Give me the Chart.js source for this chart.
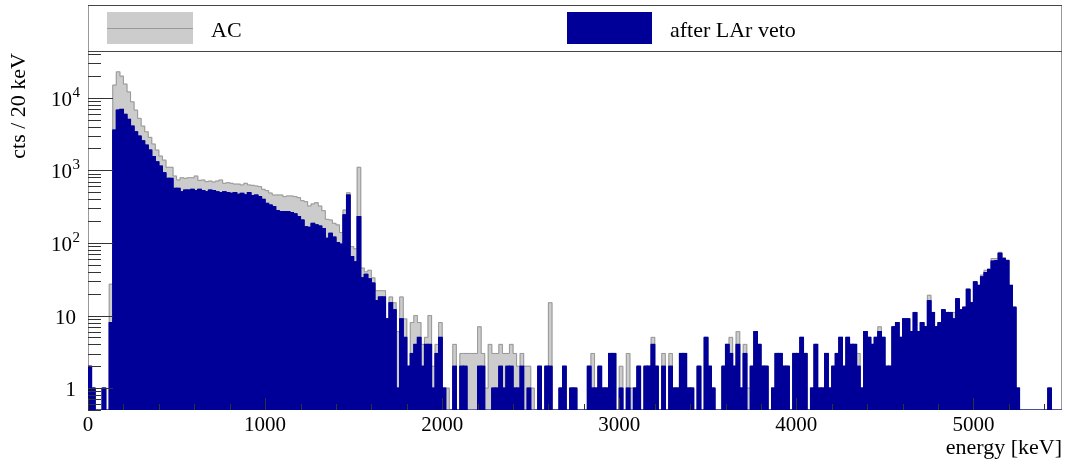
<!DOCTYPE html>
<html>
<head>
<meta charset="utf-8">
<title>Energy spectrum before and after LAr veto</title>
<script src="https://cdn.jsdelivr.net/npm/chart.js@4.4.1/dist/chart.umd.min.js"></script>
<style>
  html, body { margin: 0; padding: 0; background: #fff; }
  #wrap { position: relative; width: 1066px; height: 464px; }
</style>
</head>
<body>
<div id="wrap"><canvas id="spectrum" width="1066" height="464"></canvas></div>
<script>
// histogram binning (keV)
const binWidth = 20;
const energyMin = 0;
const energyMax = 5500;

const seriesNames = ['AC', 'after LAr veto'];

// counts per 20 keV bin, 275 bins (20 bins per row)
const acCounts = [
  2, 1, 0, 0, 1, 0, 27, 14900, 22700, 19800, 15400, 12000, 8770, 6740, 5180, 4060, 3390, 2840, 2300, 1900,
  1570, 1380, 1100, 1100, 834, 735, 790, 775, 790, 790, 834, 725, 735, 697, 710, 690, 710, 735, 662, 675,
  662, 645, 645, 628, 662, 628, 620, 608, 596, 547, 525, 486, 457, 457, 457, 434, 443, 443, 434, 420,
  382, 370, 322, 344, 358, 322, 278, 211, 207, 186, 177, 139, 284, 491, 89, 83, 1100, 45, 40, 42,
  33, 22, 22, 22, 9, 18, 15, 6, 18, 9, 2, 8, 10, 8, 4, 5, 10, 2, 4, 8,
  1, 1, 0, 4, 0, 3, 3, 3, 3, 3, 7, 3, 1, 4, 3, 3, 4, 3, 3, 4,
  3, 2, 3, 2, 2, 1, 0, 2, 0, 2, 15, 0, 0, 1, 2, 0, 1, 1, 0, 0,
  0, 2, 3, 1, 2, 1, 1, 3, 3, 0, 2, 0, 3, 1, 1, 2, 0, 2, 2, 5,
  2, 0, 3, 0, 3, 1, 1, 3, 3, 1, 1, 0, 2, 0, 5, 2, 1, 0, 0, 2,
  4, 5, 2, 6, 1, 4, 1, 2, 6, 4, 2, 2, 0, 1, 3, 3, 2, 2, 0, 3,
  3, 5, 3, 0, 1, 4, 1, 1, 3, 1, 2, 3, 5, 2, 5, 4, 4, 3, 1, 6,
  5, 4, 5, 7, 5, 2, 2, 7, 8, 5, 9, 9, 6, 11, 6, 8, 7, 19, 11, 7,
  8, 12, 11, 11, 11, 17, 12, 13, 23, 15, 29, 26, 36, 42, 44, 61, 61, 74, 63, 58,
  26, 13, 1, 0, 0, 0, 0, 0, 0, 0, 0, 1, 0, 0, 0
];

const vetoCounts = [
  2, 1, 0, 0, 1, 0, 8, 3580, 6740, 6890, 5890, 5020, 4060, 3390, 2960, 2550, 2220, 1900, 1540, 1310,
  1140, 926, 774, 774, 564, 564, 507, 535, 535, 547, 525, 547, 525, 507, 535, 525, 507, 492, 507, 492,
  482, 492, 467, 482, 458, 492, 450, 457, 434, 398, 350, 333, 316, 278, 270, 270, 270, 261, 251, 230,
  207, 167, 164, 186, 177, 171, 158, 116, 136, 120, 101, 96, 243, 457, 65, 55, 230, 33, 37, 32,
  28, 16, 18, 18, 9, 15, 12, 1, 9, 5, 2, 3, 4, 5, 2, 4, 4, 1, 3, 5,
  1, 0, 0, 2, 0, 2, 2, 0, 0, 0, 2, 2, 0, 0, 1, 1, 2, 1, 2, 2,
  1, 1, 2, 0, 1, 0, 0, 2, 0, 2, 2, 0, 0, 1, 2, 0, 1, 1, 0, 0,
  0, 2, 1, 1, 2, 1, 1, 3, 3, 0, 1, 0, 1, 0, 1, 2, 0, 2, 2, 4,
  2, 0, 2, 0, 2, 1, 1, 3, 3, 1, 1, 0, 2, 0, 5, 2, 1, 0, 0, 2,
  4, 3, 2, 4, 1, 3, 0, 2, 6, 4, 2, 2, 0, 1, 3, 3, 2, 2, 0, 3,
  3, 5, 3, 0, 1, 4, 1, 1, 3, 1, 2, 3, 5, 2, 5, 4, 4, 2, 1, 6,
  5, 4, 5, 6, 5, 2, 2, 7, 8, 5, 9, 9, 6, 11, 6, 8, 7, 16, 11, 7,
  8, 12, 11, 11, 9, 17, 12, 13, 23, 15, 29, 26, 34, 39, 43, 56, 57, 72, 61, 57,
  26, 13, 1, 0, 0, 0, 0, 0, 0, 0, 0, 1, 0, 0, 0
];

const xTickValues = [0, 1000, 2000, 3000, 4000, 5000];
const xTickLabels = ['0', '1000', '2000', '3000', '4000', '5000'];
const xMinorStep = 200;
const yTickValues = [1, 10, 100, 1000, 10000];
const yTickLabels = [['1', ''], ['10', ''], ['10', '2'], ['10', '3'], ['10', '4']];
const xTitle = 'energy [keV]';
const yTitle = 'cts / 20 keV';
const yMin = 0.5;
const yMax = 44000;

// ROOT-ish colours
const acFill = '#cccccc';
const acLine = '#999999';
const vetoFill = '#000099';
const serif = '"Liberation Serif", "Times New Roman", serif';

function barPoints(counts) {
    const pts = [];
    counts.forEach((c, i) => {
        if (c > 0) pts.push({ x: energyMin + (i + 0.5) * binWidth, y: c });
    });
    return pts;
}

// step outline, empty bins drop to the bottom of the frame
function outlinePoints(counts) {
    const pts = counts.map((c, i) => ({ x: energyMin + i * binWidth, y: c > 0 ? c : yMin }));
    pts.push({ x: energyMin + counts.length * binWidth, y: pts[pts.length - 1].y });
    return pts;
}

const rootFrame = {
    id: 'rootFrame',
    beforeDatasetsDraw(chart) {
        const { ctx, chartArea: a } = chart;
        ctx.save();
        ctx.strokeStyle = '#999';
        ctx.lineWidth = 1;
        ctx.strokeRect(a.left + 0.5, a.top + 0.5, a.right - a.left - 1, a.bottom - a.top - 1);
        ctx.restore();
    },
    afterDatasetsDraw(chart) {
        const { ctx, chartArea: a, scales: { x, y } } = chart;
        ctx.save();
        ctx.strokeStyle = '#333';
        ctx.lineWidth = 1;
        ctx.beginPath();
        for (let e = -1; e <= 4; e++) {
            for (let m = 1; m <= 9; m++) {
                const v = m * Math.pow(10, e);
                if (v < yMin || v > yMax) continue;
                const py = Math.round(y.getPixelForValue(v)) + 0.5;
                ctx.moveTo(a.left, py);
                ctx.lineTo(a.left + (m === 1 ? 25 : 13), py);
            }
        }
        for (let v = energyMin; v <= energyMax; v += xMinorStep) {
            const px = Math.round(x.getPixelForValue(v)) + 0.5;
            ctx.moveTo(px, a.bottom);
            ctx.lineTo(px, a.bottom - (v % 1000 === 0 ? 12 : 6));
        }
        ctx.stroke();
        ctx.restore();
    },
    afterDraw(chart) {
        const { ctx, chartArea: a, scales: { x, y } } = chart;
        ctx.save();

        // legend box on top of the frame
        ctx.fillStyle = acFill;
        ctx.fillRect(107, 12, 86, 32);
        ctx.strokeStyle = acLine;
        ctx.beginPath();
        ctx.moveTo(107, 28.5);
        ctx.lineTo(193, 28.5);
        ctx.stroke();
        ctx.fillStyle = vetoFill;
        ctx.fillRect(567, 12, 85, 32);

        ctx.lineWidth = 1;
        ctx.strokeStyle = '#999';
        ctx.beginPath();
        ctx.moveTo(a.left + 0.5, 5);
        ctx.lineTo(a.left + 0.5, a.top + 1);
        ctx.moveTo(a.right - 0.5, 5);
        ctx.lineTo(a.right - 0.5, a.top + 1);
        ctx.stroke();
        ctx.strokeStyle = '#444';
        ctx.beginPath();
        ctx.moveTo(a.left, 5.5);
        ctx.lineTo(a.right, 5.5);
        ctx.moveTo(a.left, a.top + 0.5);
        ctx.lineTo(a.right, a.top + 0.5);
        ctx.stroke();

        ctx.fillStyle = '#000';
        ctx.font = '22px ' + serif;
        ctx.textAlign = 'left';
        ctx.textBaseline = 'alphabetic';
        ctx.fillText(seriesNames[0], 211, 37);
        ctx.fillText(seriesNames[1], 670, 37);

        // x tick labels and title
        ctx.font = '21px ' + serif;
        ctx.textAlign = 'center';
        xTickValues.forEach((v, i) => {
            ctx.fillText(xTickLabels[i], x.getPixelForValue(v), 431);
        });
        ctx.font = '22px ' + serif;
        ctx.textAlign = 'right';
        ctx.fillText(xTitle, a.right, 454);

        // y tick labels, 10^n with a raised exponent
        yTickValues.forEach((v, i) => {
            const py = y.getPixelForValue(v);
            const [base, exp] = yTickLabels[i];
            ctx.textAlign = 'right';
            if (exp) {
                ctx.font = '15px ' + serif;
                ctx.fillText(exp, 80, py - 1);
                const w = ctx.measureText(exp).width;
                ctx.font = '21px ' + serif;
                ctx.fillText(base, 80 - w - 0.5, py + 8);
            } else {
                ctx.font = '21px ' + serif;
                ctx.fillText(base, 76, py + 8);
            }
        });

        ctx.font = '22px ' + serif;
        ctx.translate(25, a.top + 2);
        ctx.rotate(-Math.PI / 2);
        ctx.textAlign = 'right';
        ctx.fillText(yTitle, 0, 0);
        ctx.restore();
    }
};

const ctx = document.getElementById('spectrum').getContext('2d');
const chart = new Chart(ctx, {
    type: 'bar',
    data: {
        datasets: [
            {
                type: 'line',
                label: seriesNames[1] + ' outline',
                data: outlinePoints(vetoCounts),
                stepped: true,
                borderColor: vetoFill,
                borderWidth: 1,
                pointRadius: 0,
                fill: false,
                order: 0
            },
            {
                label: seriesNames[1],
                data: barPoints(vetoCounts),
                backgroundColor: vetoFill,
                borderWidth: 0,
                inflateAmount: 0.6,
                grouped: false,
                barPercentage: 1,
                categoryPercentage: 1,
                order: 1
            },
            {
                type: 'line',
                label: seriesNames[0] + ' outline',
                data: outlinePoints(acCounts),
                stepped: true,
                borderColor: acLine,
                borderWidth: 1,
                pointRadius: 0,
                fill: false,
                order: 2
            },
            {
                label: seriesNames[0],
                data: barPoints(acCounts),
                backgroundColor: acFill,
                borderWidth: 0,
                inflateAmount: 0.6,
                grouped: false,
                barPercentage: 1,
                categoryPercentage: 1,
                order: 3
            }
        ]
    },
    options: {
        responsive: false,
        animation: false,
        devicePixelRatio: 1,
        events: [],
        layout: { padding: { top: 51, right: 4, left: 0, bottom: 0 } },
        plugins: {
            legend: { display: false },
            tooltip: { enabled: false }
        },
        scales: {
            x: {
                type: 'linear',
                min: energyMin,
                max: energyMax,
                offset: false,
                grid: { display: false },
                border: { display: false },
                ticks: { display: false, stepSize: 1000, includeBounds: false },
                afterFit: (scale) => { scale.height = 54; }
            },
            y: {
                type: 'logarithmic',
                min: yMin,
                max: yMax,
                grid: { display: false },
                border: { display: false },
                ticks: { display: false },
                afterFit: (scale) => { scale.width = 88; }
            }
        }
    },
    plugins: [rootFrame]
});
</script>
</body>
</html>
